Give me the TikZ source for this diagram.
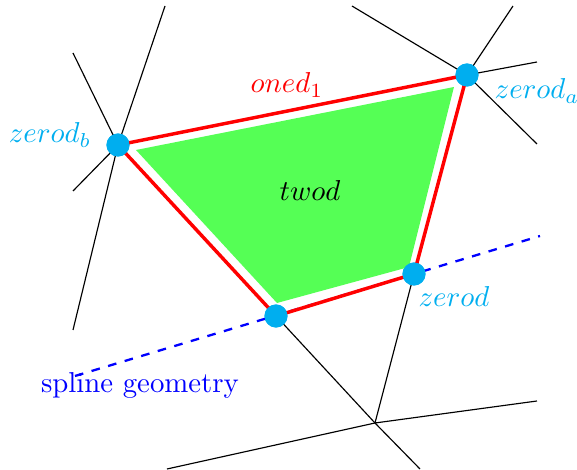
\documentclass[tikz,border=0pt]{standalone}
\usepackage{tikz}
\usetikzlibrary{calc}

\definecolor{dotcyan}{RGB}{0,174,239}
\definecolor{facegreen}{RGB}{85,255,85}

\begin{document}
\begin{tikzpicture}[
  x=0.0122cm,
  y=-0.0122cm,
  edge/.style={draw=black, line width=0.4pt},
  vert/.style={circle, fill=dotcyan, inner sep=0pt, minimum size=8pt},
  oned/.style={draw=red, line width=1.2pt, line join=round},
  spline/.style={draw=blue, dashed, line width=0.8pt},
  lab/.style={text=dotcyan}
]
  \useasboundingbox (0,0) rectangle (577,470);

  % vertices of the quad
  \node[vert] (zb) at (118,145) {};
  \node[vert] (za) at (467,75) {};
  \node[vert] (zd) at (414,274) {};
  \node[vert] (zc) at (276,316) {};
  \coordinate (mid) at (375,423);

  % free ends of the neighbouring edges
  \coordinate (b1) at (165,6);
  \coordinate (b2) at (73,53);
  \coordinate (b3) at (73,191);
  \coordinate (b4) at (73,330);
  \coordinate (a1) at (352,6);
  \coordinate (a2) at (513,6);
  \coordinate (a3) at (537,62);
  \coordinate (a4) at (537,144);
  \coordinate (m1) at (167,469);
  \coordinate (m2) at (537,401);
  \coordinate (m3) at (420,469);
  \coordinate (spl1) at (75,376);
  \coordinate (spl2) at (540,236);

  \foreach \p in {b1,b2,b3,b4}
    \draw[edge] (zb.center) -- (\p);
  \foreach \p in {a1,a2,a3,a4}
    \draw[edge] (za.center) -- (\p);
  \draw[edge] (zd.center) -- (mid);
  \draw[edge] (zc.center) -- (mid) -- (m3);
  \draw[edge] (m1) -- (mid) -- (m2);

  % face
  \fill[facegreen] (136,150) -- (454,87) -- (409,267) -- (277,303) -- cycle;
  \node (twod) at (310,191) {$twod$};

  \draw[spline] (spl1) -- (spl2);
  \draw[oned] (zb.center) -- (za.center) -- (zd.center) -- (zc.center) -- cycle;

  \node[vert] at (zb) {};
  \node[vert] at (za) {};
  \node[vert] at (zd) {};
  \node[vert] at (zc) {};

  \node[text=red] (onelab) at (287,85) {$oned_1$};
  \node[lab] (zblab) at (50,135) {$zerod_b$};
  \node[lab] (zalab) at (537,91) {$zerod_a$};
  \node[lab] (zdlab) at (454,297) {$zerod$};
  \node[text=blue] (spllab) at (140,385) {spline geometry};
\end{tikzpicture}
\end{document}
